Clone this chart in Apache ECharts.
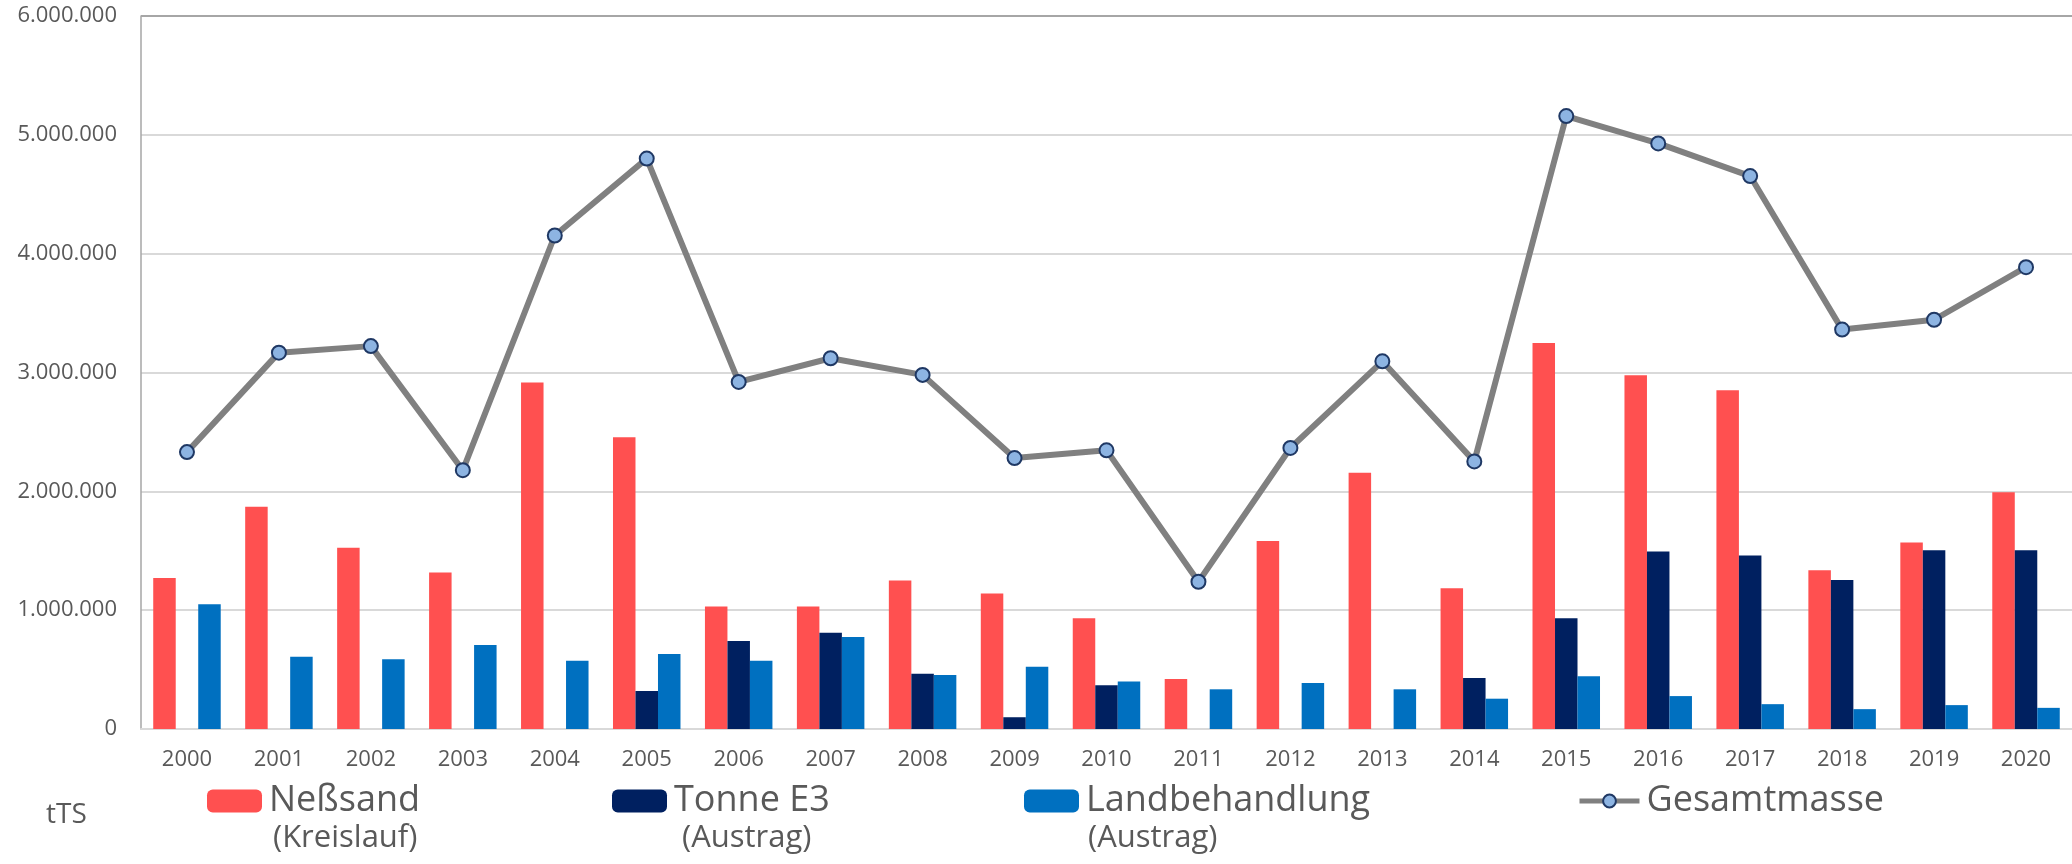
<!DOCTYPE html>
<html lang="de">
<head>
    <meta charset="UTF-8">
    <title>Baggergutmengen</title>
    <script type="text/javascript" src="https://cdn.jsdelivr.net/npm/echarts@6/dist/echarts.min.js"></script>
    <style>
        html, body { margin: 0; padding: 0; background: #fff; }
    </style>
</head>
<body>
<div id="chart" style="width: 2072px;height: 864px"></div>
<script type="text/javascript">
    // Daten (tTS)
    var years = ['2000', '2001', '2002', '2003', '2004', '2005', '2006', '2007', '2008', '2009', '2010',
        '2011', '2012', '2013', '2014', '2015', '2016', '2017', '2018', '2019', '2020'];
    var nessand = [1270000, 1870000, 1525000, 1318000, 2915000, 2455000, 1030000, 1030000, 1250000, 1140000, 931000,
        421000, 1581000, 2156000, 1185000, 3249000, 2977000, 2850000, 1335000, 1570000, 1992000];
    var tonneE3 = [0, 0, 0, 0, 0, 320000, 741000, 809000, 464000, 99000, 368000,
        0, 0, 0, 430000, 931000, 1494000, 1460000, 1253000, 1505000, 1505000];
    var landbehandlung = [1049000, 608000, 588000, 707000, 574000, 631000, 574000, 775000, 455000, 523000, 399000,
        334000, 388000, 334000, 255000, 444000, 277000, 209000, 167000, 201000, 178000];
    var gesamtmasse = [2330000, 3167000, 3222000, 2178000, 4153000, 4800000, 2921000, 3120000, 2980000, 2280000, 2345000,
        1239000, 2365000, 3094000, 2252000, 5158000, 4928000, 4653000, 3361000, 3444000, 3886000];
    var yTicks = [0, 1000000, 2000000, 3000000, 4000000, 5000000, 6000000];

    var font = "'Open Sans', 'DejaVu Sans', sans-serif";
    var grau = '#595959';

    function tausender(v) {
        return String(v).replace(/\B(?=(\d{3})+(?!\d))/g, '.');
    }

    var myChart = echarts.init(document.getElementById('chart'));

    function legende(name, left, w, h, top) {
        return {
            data: [name],
            left: left,
            top: top,
            orient: 'horizontal',
            itemWidth: w,
            itemHeight: h,
            selectedMode: false,
            lineStyle: {width: 5, color: '#808080'},
            textStyle: {color: grau, fontSize: 36, fontFamily: font, padding: [0, 0, 0, 2]}
        };
    }

    var option = {
        animation: false,
        backgroundColor: '#fff',
        grid: {
            left: 141,
            right: 0,
            top: 16,
            bottom: 135,
            containLabel: false
        },
        legend: [
            legende('Neßsand', 202, 55, 23, 778),
            legende('Tonne E3', 607, 55, 23, 778),
            legende('Landbehandlung', 1019, 55, 23, 778),
            legende('Gesamtmasse', 1572, 60, 16, 778)
        ],
        xAxis: {
            type: 'category',
            data: years,
            axisTick: {show: false},
            axisLine: {show: true, lineStyle: {color: '#d9d9d9', width: 2}},
            axisLabel: {color: grau, fontSize: 22, fontFamily: font, margin: 20}
        },
        yAxis: {
            type: 'value',
            min: 0,
            max: 6000000,
            interval: 1000000,
            axisLine: {show: true, lineStyle: {color: '#a6a6a6', width: 1.5}},
            axisTick: {show: false},
            axisLabel: {
                color: grau,
                fontSize: 22,
                fontFamily: font,
                margin: 24,
                formatter: function (v) { return tausender(v); }
            },
            splitLine: {
                lineStyle: {
                    color: yTicks.map(function (t, i) { return i === yTicks.length - 1 ? '#a6a6a6' : '#d9d9d9'; }),
                    width: 2
                }
            }
        },
        series: [
            {
                name: 'Neßsand',
                type: 'bar',
                data: nessand,
                barGap: '0%',
                barCategoryGap: '26.6%',
                itemStyle: {color: '#ff5050'}
            },
            {
                name: 'Tonne E3',
                type: 'bar',
                data: tonneE3,
                itemStyle: {color: '#002060'}
            },
            {
                name: 'Landbehandlung',
                type: 'bar',
                data: landbehandlung,
                itemStyle: {color: '#0070c0'}
            },
            {
                name: 'Gesamtmasse',
                type: 'line',
                data: gesamtmasse,
                symbol: 'circle',
                symbolSize: 14,
                lineStyle: {color: '#808080', width: 6},
                itemStyle: {color: '#8db4e2', borderColor: '#1f3864', borderWidth: 2},
                z: 5
            }
        ],
        graphic: [
            {type: 'text', left: 46, top: 801, style: {text: 'tTS', fill: grau, fontSize: 28, fontFamily: font}},
            {type: 'text', left: 273, top: 823, style: {text: '(Kreislauf)', fill: grau, fontSize: 31, fontFamily: font}},
            {type: 'text', left: 682, top: 823, style: {text: '(Austrag)', fill: grau, fontSize: 31, fontFamily: font}},
            {type: 'text', left: 1088, top: 823, style: {text: '(Austrag)', fill: grau, fontSize: 31, fontFamily: font}}
        ]
    };
    option && myChart.setOption(option);
</script>
</body>
</html>
